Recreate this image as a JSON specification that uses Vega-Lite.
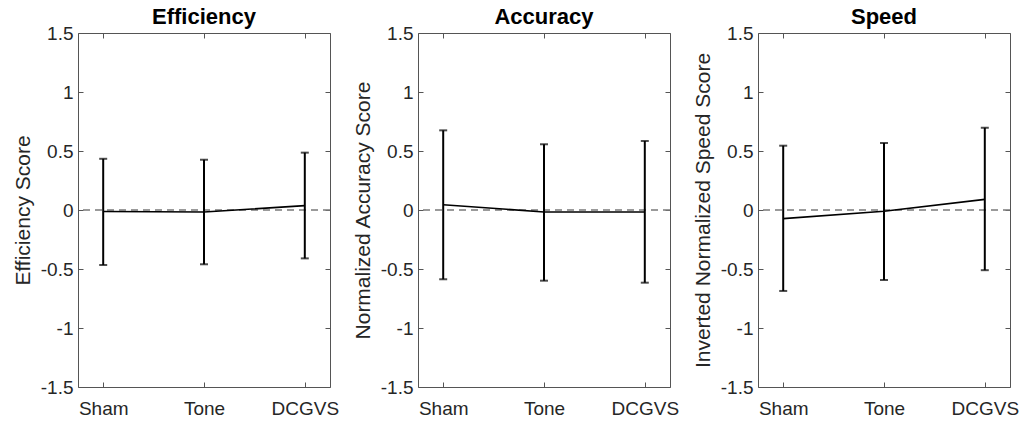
{
  "$schema": "https://vega.github.io/schema/vega-lite/v6.json",
  "background": "white",
  "padding": {"left": 11, "top": 5, "right": 5, "bottom": 5},
  "spacing": 88,
  "bounds": "flush",
  "datasets": {
    "scores": [
      {"panel": "Efficiency", "cond": "Sham", "x": 1, "mean": -0.013, "hi": 0.434, "lo": -0.466},
      {"panel": "Efficiency", "cond": "Tone", "x": 2, "mean": -0.017, "hi": 0.426, "lo": -0.46},
      {"panel": "Efficiency", "cond": "DCGVS", "x": 3, "mean": 0.037, "hi": 0.486, "lo": -0.41},
      {"panel": "Accuracy", "cond": "Sham", "x": 1, "mean": 0.045, "hi": 0.675, "lo": -0.587},
      {"panel": "Accuracy", "cond": "Tone", "x": 2, "mean": -0.017, "hi": 0.557, "lo": -0.599},
      {"panel": "Accuracy", "cond": "DCGVS", "x": 3, "mean": -0.017, "hi": 0.585, "lo": -0.616},
      {"panel": "Speed", "cond": "Sham", "x": 1, "mean": -0.073, "hi": 0.545, "lo": -0.686},
      {"panel": "Speed", "cond": "Tone", "x": 2, "mean": -0.011, "hi": 0.568, "lo": -0.593},
      {"panel": "Speed", "cond": "DCGVS", "x": 3, "mean": 0.09, "hi": 0.697, "lo": -0.51}
    ],
    "zero": [{"z": 0}]
  },
  "hconcat": [
    {
      "width": 252, "height": 354,
      "title": {"text": "Efficiency", "frame": "group"},
      "data": {"name": "scores"},
      "transform": [{"filter": "datum.panel === 'Efficiency'"}],
      "layer": [
        {"data": {"name": "zero"}, "mark": {"type": "rule", "color": "#7a7a7a", "strokeDash": [7, 5], "strokeWidth": 1.6},
         "encoding": {"y": {"field": "z", "type": "quantitative", "scale": {"domain": [-1.5, 1.5]}, "axis": {"orient": "right", "labels": false, "title": null, "values": [-1.5, -1, -0.5, 0, 0.5, 1, 1.5]}}}},
        {"mark": {"type": "rule", "color": "#000", "strokeWidth": 2},
         "encoding": {
           "x": {"field": "x", "type": "quantitative", "scale": {"domain": [0.75, 3.25]}, "axis": {"orient": "bottom", "values": [1, 2, 3], "labelExpr": "['','Sham','Tone','DCGVS'][datum.value]", "title": null, "labelPadding": 17}},
           "y": {"field": "lo", "type": "quantitative", "scale": {"domain": [-1.5, 1.5]}, "axis": {"orient": "left", "values": [-1.5, -1, -0.5, 0, 0.5, 1, 1.5], "labelExpr": "'' + datum.value", "title": "Efficiency Score"}},
           "y2": {"field": "hi"}}},
        {"mark": {"type": "tick", "orient": "horizontal", "color": "#000", "size": 8, "thickness": 2},
         "encoding": {"x": {"field": "x", "type": "quantitative", "scale": {"domain": [0.75, 3.25]}, "axis": null}, "y": {"field": "hi", "type": "quantitative", "scale": {"domain": [-1.5, 1.5]}, "axis": null}}},
        {"mark": {"type": "tick", "orient": "horizontal", "color": "#000", "size": 8, "thickness": 2},
         "encoding": {"x": {"field": "x", "type": "quantitative", "scale": {"domain": [0.75, 3.25]}, "axis": null}, "y": {"field": "lo", "type": "quantitative", "scale": {"domain": [-1.5, 1.5]}, "axis": null}}},
        {"mark": {"type": "line", "color": "#000", "strokeWidth": 1.6},
         "encoding": {"x": {"field": "x", "type": "quantitative", "scale": {"domain": [0.75, 3.25]}, "axis": {"orient": "top", "values": [1, 2, 3], "labels": false, "title": null}}, "y": {"field": "mean", "type": "quantitative", "scale": {"domain": [-1.5, 1.5]}, "axis": null}}}
      ],
      "resolve": {"axis": {"x": "independent", "y": "independent"}}
    },
    {
      "width": 252, "height": 354,
      "title": {"text": "Accuracy", "frame": "group"},
      "data": {"name": "scores"},
      "transform": [{"filter": "datum.panel === 'Accuracy'"}],
      "layer": [
        {"data": {"name": "zero"}, "mark": {"type": "rule", "color": "#7a7a7a", "strokeDash": [7, 5], "strokeWidth": 1.6},
         "encoding": {"y": {"field": "z", "type": "quantitative", "scale": {"domain": [-1.5, 1.5]}, "axis": {"orient": "right", "labels": false, "title": null, "values": [-1.5, -1, -0.5, 0, 0.5, 1, 1.5]}}}},
        {"mark": {"type": "rule", "color": "#000", "strokeWidth": 2},
         "encoding": {
           "x": {"field": "x", "type": "quantitative", "scale": {"domain": [0.75, 3.25]}, "axis": {"orient": "bottom", "values": [1, 2, 3], "labelExpr": "['','Sham','Tone','DCGVS'][datum.value]", "title": null, "labelPadding": 17}},
           "y": {"field": "lo", "type": "quantitative", "scale": {"domain": [-1.5, 1.5]}, "axis": {"orient": "left", "values": [-1.5, -1, -0.5, 0, 0.5, 1, 1.5], "labelExpr": "'' + datum.value", "title": "Normalized Accuracy Score"}},
           "y2": {"field": "hi"}}},
        {"mark": {"type": "tick", "orient": "horizontal", "color": "#000", "size": 8, "thickness": 2},
         "encoding": {"x": {"field": "x", "type": "quantitative", "scale": {"domain": [0.75, 3.25]}, "axis": null}, "y": {"field": "hi", "type": "quantitative", "scale": {"domain": [-1.5, 1.5]}, "axis": null}}},
        {"mark": {"type": "tick", "orient": "horizontal", "color": "#000", "size": 8, "thickness": 2},
         "encoding": {"x": {"field": "x", "type": "quantitative", "scale": {"domain": [0.75, 3.25]}, "axis": null}, "y": {"field": "lo", "type": "quantitative", "scale": {"domain": [-1.5, 1.5]}, "axis": null}}},
        {"mark": {"type": "line", "color": "#000", "strokeWidth": 1.6},
         "encoding": {"x": {"field": "x", "type": "quantitative", "scale": {"domain": [0.75, 3.25]}, "axis": {"orient": "top", "values": [1, 2, 3], "labels": false, "title": null}}, "y": {"field": "mean", "type": "quantitative", "scale": {"domain": [-1.5, 1.5]}, "axis": null}}}
      ],
      "resolve": {"axis": {"x": "independent", "y": "independent"}}
    },
    {
      "width": 252, "height": 354,
      "title": {"text": "Speed", "frame": "group"},
      "data": {"name": "scores"},
      "transform": [{"filter": "datum.panel === 'Speed'"}],
      "layer": [
        {"data": {"name": "zero"}, "mark": {"type": "rule", "color": "#7a7a7a", "strokeDash": [7, 5], "strokeWidth": 1.6},
         "encoding": {"y": {"field": "z", "type": "quantitative", "scale": {"domain": [-1.5, 1.5]}, "axis": {"orient": "right", "labels": false, "title": null, "values": [-1.5, -1, -0.5, 0, 0.5, 1, 1.5]}}}},
        {"mark": {"type": "rule", "color": "#000", "strokeWidth": 2},
         "encoding": {
           "x": {"field": "x", "type": "quantitative", "scale": {"domain": [0.75, 3.25]}, "axis": {"orient": "bottom", "values": [1, 2, 3], "labelExpr": "['','Sham','Tone','DCGVS'][datum.value]", "title": null, "labelPadding": 17}},
           "y": {"field": "lo", "type": "quantitative", "scale": {"domain": [-1.5, 1.5]}, "axis": {"orient": "left", "values": [-1.5, -1, -0.5, 0, 0.5, 1, 1.5], "labelExpr": "'' + datum.value", "title": "Inverted Normalized Speed Score"}},
           "y2": {"field": "hi"}}},
        {"mark": {"type": "tick", "orient": "horizontal", "color": "#000", "size": 8, "thickness": 2},
         "encoding": {"x": {"field": "x", "type": "quantitative", "scale": {"domain": [0.75, 3.25]}, "axis": null}, "y": {"field": "hi", "type": "quantitative", "scale": {"domain": [-1.5, 1.5]}, "axis": null}}},
        {"mark": {"type": "tick", "orient": "horizontal", "color": "#000", "size": 8, "thickness": 2},
         "encoding": {"x": {"field": "x", "type": "quantitative", "scale": {"domain": [0.75, 3.25]}, "axis": null}, "y": {"field": "lo", "type": "quantitative", "scale": {"domain": [-1.5, 1.5]}, "axis": null}}},
        {"mark": {"type": "line", "color": "#000", "strokeWidth": 1.6},
         "encoding": {"x": {"field": "x", "type": "quantitative", "scale": {"domain": [0.75, 3.25]}, "axis": {"orient": "top", "values": [1, 2, 3], "labels": false, "title": null}}, "y": {"field": "mean", "type": "quantitative", "scale": {"domain": [-1.5, 1.5]}, "axis": null}}}
      ],
      "resolve": {"axis": {"x": "independent", "y": "independent"}}
    }
  ],
  "config": {
    "font": "Liberation Sans",
    "view": {"stroke": "#555555", "strokeWidth": 1},
    "title": {"font": "Liberation Sans", "fontSize": 22, "fontWeight": "bold", "color": "#000000", "offset": -5, "anchor": "middle"},
    "axis": {
      "grid": false,
      "domain": false,
      "ticks": true,
      "tickSize": -5,
      "tickColor": "#555555",
      "tickWidth": 1,
      "labelFont": "Liberation Sans",
      "labelFontSize": 19,
      "labelColor": "#262626",
      "labelPadding": 10,
      "labelFlush": false,
      "labelOverlap": false,
      "titleFont": "Liberation Sans",
      "titleFontSize": 21,
      "titleFontWeight": "normal",
      "titleColor": "#262626",
      "titlePadding": 7
    }
  }
}
